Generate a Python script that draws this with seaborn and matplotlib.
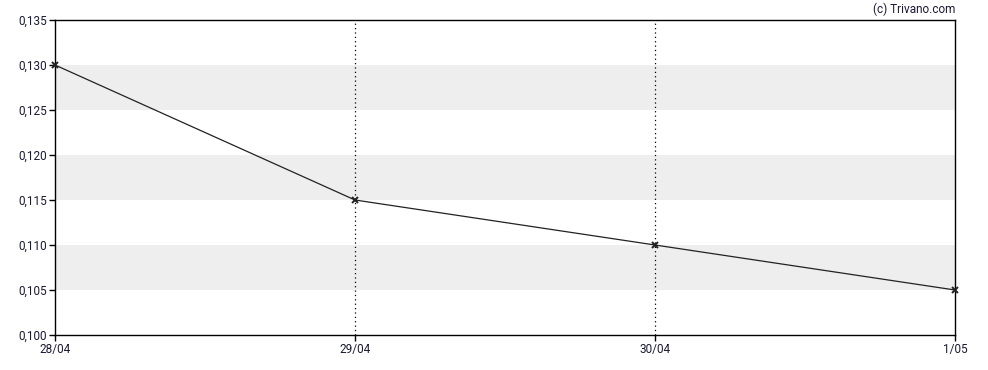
import matplotlib
matplotlib.use("Agg")
import matplotlib.pyplot as plt
import seaborn as sns
import pandas as pd

dates = ["28/04", "29/04", "30/04", "1/05"]
values = [0.130, 0.115, 0.110, 0.105]
yticks = [0.100, 0.105, 0.110, 0.115, 0.120, 0.125, 0.130, 0.135]
ytick_labels = ["0,100", "0,105", "0,110", "0,115", "0,120", "0,125", "0,130", "0,135"]
bands = [(0.105, 0.110), (0.115, 0.120), (0.125, 0.130)]

sns.set_style("white")
plt.rcParams['font.family'] = ['Roboto', 'DejaVu Sans']

df = pd.DataFrame({"x": list(range(len(dates))), "y": values})

fig = plt.figure(figsize=(9.88, 3.70), dpi=100)
ax = fig.add_axes([55/988, 1-335/370, 900/988, 315/370])

for lo, hi in bands:
    ax.axhspan(lo, hi, color="#eeeeee", lw=0, zorder=0)
for i in range(1, len(dates) - 1):
    ax.axvline(i, color="black", lw=0.9, ls=(0, (1, 2.5)), zorder=1)

sns.lineplot(data=df, x="x", y="y", ax=ax, color="#222222", lw=0.9,
             marker="x", markersize=4, markeredgewidth=1.4, markeredgecolor="#222222",
             zorder=3, clip_on=False)

ax.set_xlim(0, len(dates) - 1)
ax.set_ylim(0.100, 0.135)
ax.set_xticks(range(len(dates)))
ax.set_xticklabels(dates)
ax.set_yticks(yticks)
ax.set_yticklabels(ytick_labels)
ax.set_xlabel("")
ax.set_ylabel("")
for s in ax.spines.values():
    s.set_visible(True)
    s.set_color("black")
    s.set_linewidth(1.0)
    s.set_zorder(2)
ax.tick_params(axis="both", which="both", length=4, width=1, color="black",
               labelsize=8.5, labelcolor="#1a1a33", direction="out", bottom=True, left=True, pad=2)
ax.grid(False)

fig.text(955/988, 1-9/370, "(c) Trivano.com", ha="right", va="center", fontsize=8.5, color="#1a1a33")

fig.savefig("out.png", dpi=100)
